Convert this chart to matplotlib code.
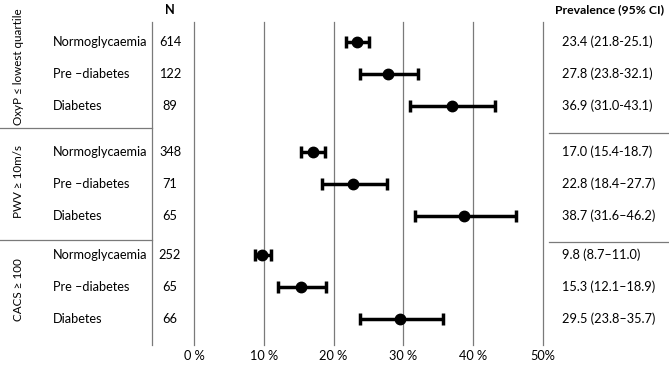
import matplotlib
matplotlib.use("Agg")
import matplotlib.pyplot as plt

# ---- dados ----
groups = ["OxyP \u2264 lowest quartile", "PWV \u2265 10m/s", "CACS \u2265 100"]
categories = ["Normoglycaemia", "Pre \u2013diabetes", "Diabetes"]
n_values = [614, 122, 89, 348, 71, 65, 252, 65, 66]
prev = [23.4, 27.8, 36.9, 17.0, 22.8, 38.7, 9.8, 15.3, 29.5]
ci_low = [21.8, 23.8, 31.0, 15.4, 18.4, 31.6, 8.7, 12.1, 23.8]
ci_high = [25.1, 32.1, 43.1, 18.7, 27.7, 46.2, 11.0, 18.9, 35.7]
ci_labels = ["23.4 (21.8-25.1)", "27.8 (23.8-32.1)", "36.9 (31.0-43.1)",
             "17.0 (15.4-18.7)", "22.8 (18.4\u201327.7)", "38.7 (31.6\u201346.2)",
             "9.8 (8.7\u201311.0)", "15.3 (12.1\u201318.9)", "29.5 (23.8\u201335.7)"]
ticks = [0, 10, 20, 30, 40, 50]
tick_labels = ["0 %", "10 %", "20 %", "30 %", "40 %", "50%"]

# ---- layout (pixels) ----
W, H = 669, 365
X0, PX = 194, 6.98          # posicao de 0% e px por %
group_top = [42, 152, 255]   # y da primeira linha de cada grupo
ROW_STEP = 32
GRID = "#7a7a7a"
FS = 9.2

plt.rcParams['font.family'] = ['Lato', 'DejaVu Sans']
fig = plt.figure(figsize=(W / 100, H / 100), dpi=100)

# eixo em pixels para linhas e textos
ax0 = fig.add_axes([0, 0, 1, 1])
ax0.set_xlim(0, W)
ax0.set_ylim(H, 0)
ax0.axis('off')

# eixo de dados (percentual)
ax = fig.add_axes([0, 0, 1, 1])
ax.set_xlim(-X0 / PX, (W - X0) / PX)
ax.set_ylim(H, 0)
ax.axis('off')
ax.patch.set_alpha(0)

ys = [group_top[g] + i * ROW_STEP for g in range(3) for i in range(3)]

# grade vertical
for t, lab in zip(ticks, tick_labels):
    ax.plot([t, t], [22, 345], color=GRID, lw=0.9, zorder=1)
    ax.text(t, 356, lab, ha='center', va='center', fontsize=FS)

# linhas da estrutura
ax0.plot([152, 152], [22, 345], color=GRID, lw=0.9)
for y in [128, 240]:
    ax0.plot([0, 152], [y, y], color=GRID, lw=0.9)
for y in [133, 242]:
    ax0.plot([549, W], [y, y], color=GRID, lw=0.9)

# cabecalhos
ax0.text(170, 10, "N", ha='center', va='center', fontsize=FS, fontweight='bold')
ax0.text(610, 10, "Prevalence (95% CI)", ha='center', va='center', fontsize=FS - 0.4,
         fontweight='bold')

# rotulos de grupo
group_mid = [67, 181, 290]
for g, name in enumerate(groups):
    ax0.text(19, group_mid[g], name, rotation=90, ha='center', va='center', fontsize=8.4)

# linhas por categoria
for k, y in enumerate(ys):
    ax0.text(53, y, categories[k % 3], ha='left', va='center', fontsize=FS)
    ax0.text(170, y, str(n_values[k]), ha='center', va='center', fontsize=FS)
    ax0.text(562, y, ci_labels[k], ha='left', va='center', fontsize=FS)

# pontos e IC
err = [[p - lo for p, lo in zip(prev, ci_low)], [hi - p for p, hi in zip(prev, ci_high)]]
ax.errorbar(prev, ys, xerr=err, fmt='o', color='black', ms=7.5, elinewidth=2.5,
            capsize=4.5, capthick=2.5, zorder=3)

fig.savefig("out.png", dpi=100)
